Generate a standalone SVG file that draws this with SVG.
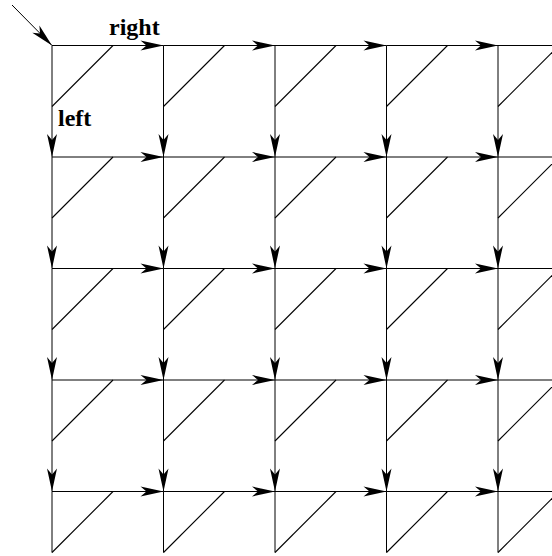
<svg xmlns="http://www.w3.org/2000/svg" width="552" height="556" viewBox="0 0 552 556">
<defs>
<marker id="ah" viewBox="-24 -6 25 12" refX="0" refY="0" markerWidth="25" markerHeight="12" markerUnits="userSpaceOnUse" orient="auto">
<path d="M0,0 L-23,-5 L-17,0 L-23,5 Z" fill="#000"/>
</marker>
</defs>
<style>
.e{stroke:#000;stroke-width:1;fill:none}
.a{marker-end:url(#ah)}
.d{stroke:#000;stroke-width:1.1;fill:none}
.t{font-family:"Liberation Serif","Times New Roman",serif;font-weight:bold;font-size:24px;fill:#000}
</style>
<rect width="552" height="556" fill="#fff"/>
<g id="connectors">
<line class="e a" x1="12" y1="5" x2="52" y2="45.5"/>
<line class="e a" x1="52" y1="45.5" x2="163.5" y2="45.5"/><line class="e a" x1="163.5" y1="45.5" x2="275" y2="45.5"/><line class="e a" x1="275" y1="45.5" x2="386.5" y2="45.5"/><line class="e a" x1="386.5" y1="45.5" x2="498" y2="45.5"/><line class="e" x1="498" y1="45.5" x2="552" y2="45.5"/>
<line class="e a" x1="52" y1="157" x2="163.5" y2="157"/><line class="e a" x1="163.5" y1="157" x2="275" y2="157"/><line class="e a" x1="275" y1="157" x2="386.5" y2="157"/><line class="e a" x1="386.5" y1="157" x2="498" y2="157"/><line class="e" x1="498" y1="157" x2="552" y2="157"/>
<line class="e a" x1="52" y1="268.5" x2="163.5" y2="268.5"/><line class="e a" x1="163.5" y1="268.5" x2="275" y2="268.5"/><line class="e a" x1="275" y1="268.5" x2="386.5" y2="268.5"/><line class="e a" x1="386.5" y1="268.5" x2="498" y2="268.5"/><line class="e" x1="498" y1="268.5" x2="552" y2="268.5"/>
<line class="e a" x1="52" y1="380" x2="163.5" y2="380"/><line class="e a" x1="163.5" y1="380" x2="275" y2="380"/><line class="e a" x1="275" y1="380" x2="386.5" y2="380"/><line class="e a" x1="386.5" y1="380" x2="498" y2="380"/><line class="e" x1="498" y1="380" x2="552" y2="380"/>
<line class="e a" x1="52" y1="491.5" x2="163.5" y2="491.5"/><line class="e a" x1="163.5" y1="491.5" x2="275" y2="491.5"/><line class="e a" x1="275" y1="491.5" x2="386.5" y2="491.5"/><line class="e a" x1="386.5" y1="491.5" x2="498" y2="491.5"/><line class="e" x1="498" y1="491.5" x2="552" y2="491.5"/>
<line class="e a" x1="52" y1="45.5" x2="52" y2="157"/><line class="e a" x1="52" y1="157" x2="52" y2="268.5"/><line class="e a" x1="52" y1="268.5" x2="52" y2="380"/><line class="e a" x1="52" y1="380" x2="52" y2="491.5"/><line class="e" x1="52" y1="491.5" x2="52" y2="552.5"/>
<line class="e a" x1="163.5" y1="45.5" x2="163.5" y2="157"/><line class="e a" x1="163.5" y1="157" x2="163.5" y2="268.5"/><line class="e a" x1="163.5" y1="268.5" x2="163.5" y2="380"/><line class="e a" x1="163.5" y1="380" x2="163.5" y2="491.5"/><line class="e" x1="163.5" y1="491.5" x2="163.5" y2="552.5"/>
<line class="e a" x1="275" y1="45.5" x2="275" y2="157"/><line class="e a" x1="275" y1="157" x2="275" y2="268.5"/><line class="e a" x1="275" y1="268.5" x2="275" y2="380"/><line class="e a" x1="275" y1="380" x2="275" y2="491.5"/><line class="e" x1="275" y1="491.5" x2="275" y2="552.5"/>
<line class="e a" x1="386.5" y1="45.5" x2="386.5" y2="157"/><line class="e a" x1="386.5" y1="157" x2="386.5" y2="268.5"/><line class="e a" x1="386.5" y1="268.5" x2="386.5" y2="380"/><line class="e a" x1="386.5" y1="380" x2="386.5" y2="491.5"/><line class="e" x1="386.5" y1="491.5" x2="386.5" y2="552.5"/>
<line class="e a" x1="498" y1="45.5" x2="498" y2="157"/><line class="e a" x1="498" y1="157" x2="498" y2="268.5"/><line class="e a" x1="498" y1="268.5" x2="498" y2="380"/><line class="e a" x1="498" y1="380" x2="498" y2="491.5"/><line class="e" x1="498" y1="491.5" x2="498" y2="552.5"/>
</g>
<g id="labels">
<text class="t" x="109" y="35">right</text>
<text class="t" x="58" y="126">left</text>
</g>
<g id="n00"><path class="d" d="M113,45.5 L52,106.5"/></g>
<g id="n10"><path class="d" d="M224.5,45.5 L163.5,106.5"/></g>
<g id="n20"><path class="d" d="M336,45.5 L275,106.5"/></g>
<g id="n30"><path class="d" d="M447.5,45.5 L386.5,106.5"/></g>
<g id="n40"><path class="d" d="M559,45.5 L498,106.5"/></g>
<g id="n01"><path class="d" d="M113,157 L52,218"/></g>
<g id="n11"><path class="d" d="M224.5,157 L163.5,218"/></g>
<g id="n21"><path class="d" d="M336,157 L275,218"/></g>
<g id="n31"><path class="d" d="M447.5,157 L386.5,218"/></g>
<g id="n41"><path class="d" d="M559,157 L498,218"/></g>
<g id="n02"><path class="d" d="M113,268.5 L52,329.5"/></g>
<g id="n12"><path class="d" d="M224.5,268.5 L163.5,329.5"/></g>
<g id="n22"><path class="d" d="M336,268.5 L275,329.5"/></g>
<g id="n32"><path class="d" d="M447.5,268.5 L386.5,329.5"/></g>
<g id="n42"><path class="d" d="M559,268.5 L498,329.5"/></g>
<g id="n03"><path class="d" d="M113,380 L52,441"/></g>
<g id="n13"><path class="d" d="M224.5,380 L163.5,441"/></g>
<g id="n23"><path class="d" d="M336,380 L275,441"/></g>
<g id="n33"><path class="d" d="M447.5,380 L386.5,441"/></g>
<g id="n43"><path class="d" d="M559,380 L498,441"/></g>
<g id="n04"><path class="d" d="M113,491.5 L52,552.5"/></g>
<g id="n14"><path class="d" d="M224.5,491.5 L163.5,552.5"/></g>
<g id="n24"><path class="d" d="M336,491.5 L275,552.5"/></g>
<g id="n34"><path class="d" d="M447.5,491.5 L386.5,552.5"/></g>
<g id="n44"><path class="d" d="M559,491.5 L498,552.5"/></g>
</svg>
